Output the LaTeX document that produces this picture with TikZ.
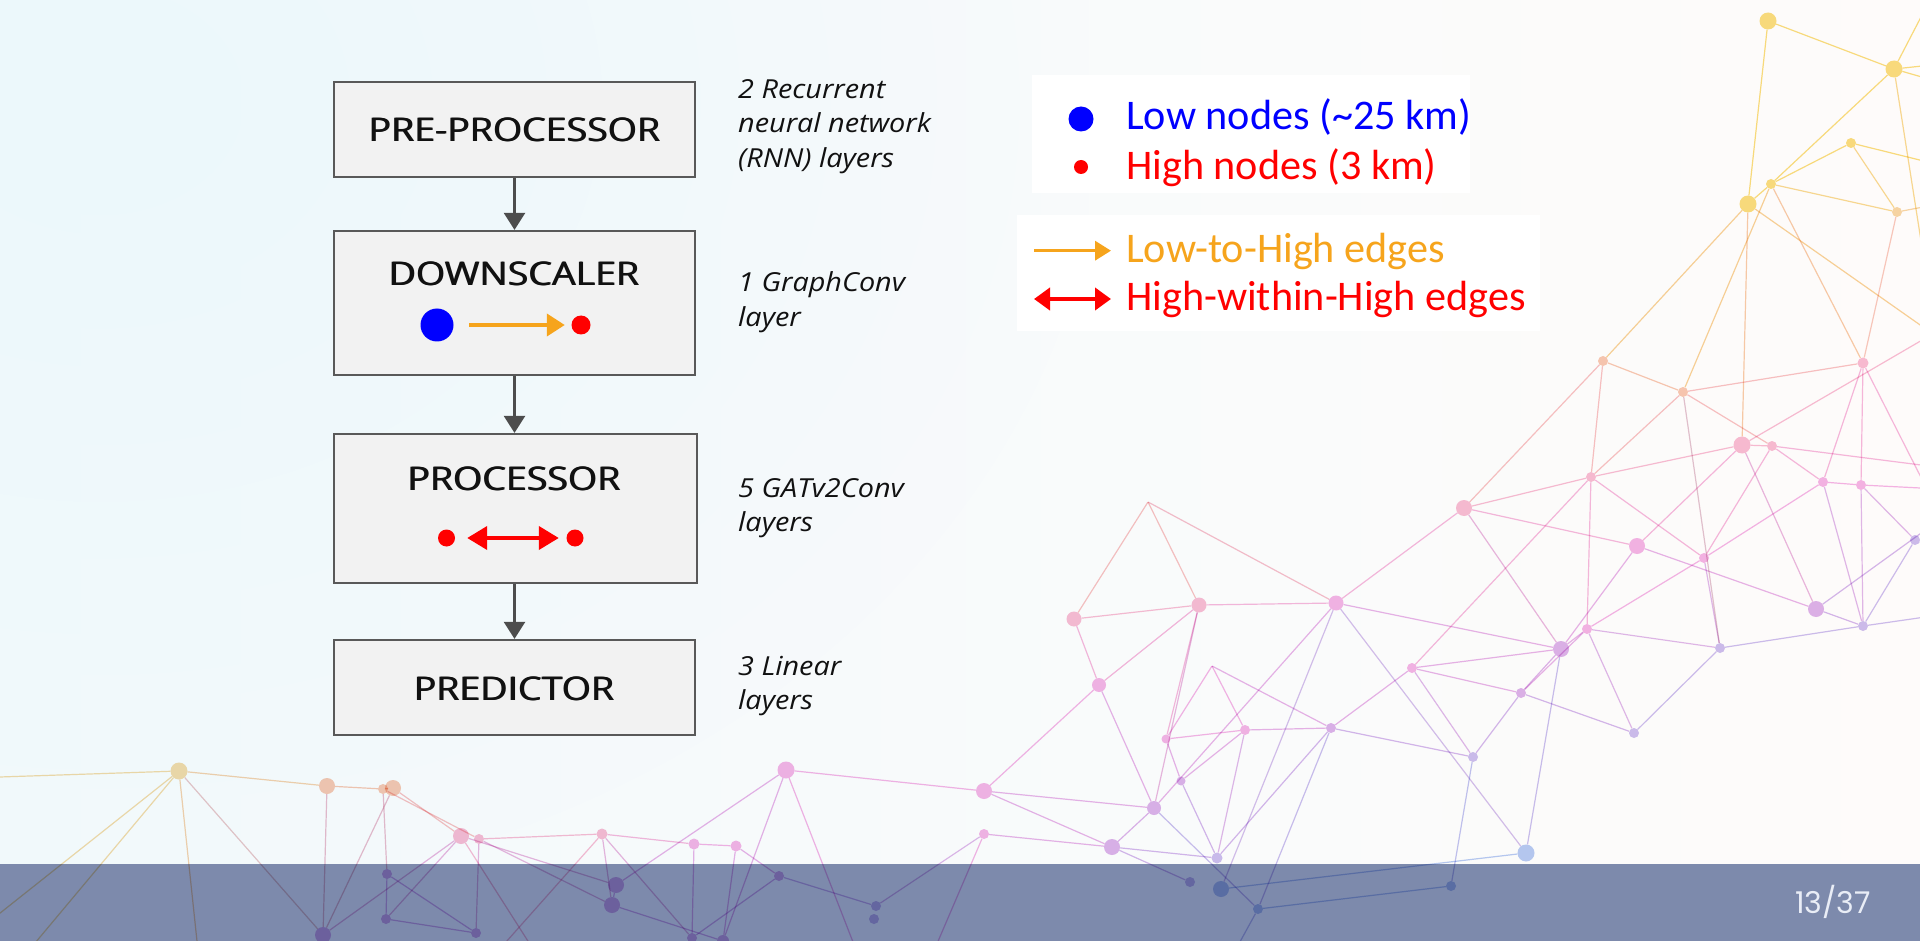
\documentclass[tikz,border=0pt]{standalone}
\usepackage{fontspec}
\setmainfont{Open Sans}
\newfontfamily\titlefont[FakeStretch=1.15]{Open Sans}
\newfontfamily\notefont[FakeStretch=1.1]{Open Sans}
\newfontfamily\legendfont{Carlito}
\newfontfamily\pagefont{Poppins}
\usetikzlibrary{arrows.meta,fadings}

% slightly heavier lettering: the text set twice, a hair apart
\newcommand\heavytext[1]{\rlap{#1}\kern1.1pt #1}

% page and diagram colours
\definecolor{bgleft}{HTML}{F2FAFC}
\definecolor{bgmid}{HTML}{FDF9FD}
\definecolor{bgright}{HTML}{FEFBFA}
\definecolor{bgglow}{HTML}{ECF8FB}
\definecolor{barcol}{HTML}{7D8AAC}
\definecolor{pagecol}{HTML}{E9EDF6}
\definecolor{boxfill}{HTML}{F2F2F2}
\definecolor{boxline}{HTML}{595959}
\definecolor{flowcol}{HTML}{4D4D4D}
\definecolor{inkcol}{HTML}{111111}
\definecolor{lowblue}{HTML}{0000FF}
\definecolor{highred}{HTML}{FF0000}
\definecolor{edgeorange}{HTML}{F6A41C}
% colours of the decorative network
\definecolor{cyel}{HTML}{F9DD7E}
\definecolor{cypc}{HTML}{F7D7A6}
\definecolor{cylo}{HTML}{F6DCAA}
\definecolor{cpch}{HTML}{F8C8B2}
\definecolor{cpnk}{HTML}{F8BCD4}
\definecolor{cmag}{HTML}{F4B4E6}
\definecolor{cpur}{HTML}{DDB2EA}
\definecolor{clav}{HTML}{CDBDEE}
\definecolor{clbl}{HTML}{B7CAF3}

\tikzfading[name=cyanglow, inner color=transparent!0, outer color=transparent!100]

\tikzset{
  stage/.style={draw=boxline, line width=2.2pt, fill=boxfill, inner sep=0pt, minimum width=361pt},
  stagetitle/.style={inner sep=0pt, text=inkcol, font=\titlefont\fontsize{32.6}{38}\selectfont},
  flow/.style={draw=flowcol, line width=2.4pt, -{Triangle[width=21pt,length=17pt]}},
  note/.style={anchor=base west, inner sep=0pt, text=inkcol, font=\notefont\itshape\fontsize{26.2}{34.5}\selectfont},
  bigdot/.style={circle, inner sep=0pt, draw=none, fill=lowblue, minimum size=33pt},
  smalldot/.style={circle, inner sep=0pt, draw=none, fill=highred, minimum size=19pt},
  lowhigh/.style={draw=edgeorange, line width=4pt, -{Triangle[width=22pt,length=18pt]}},
  highhigh/.style={draw=highred, line width=4pt, {Triangle[width=23pt,length=20pt]}-{Triangle[width=23pt,length=20pt]}},
  legendbox/.style={fill=white, draw=none, inner sep=0pt},
  legendtext/.style={anchor=base west, inner sep=0pt, font=\legendfont\fontsize{42.2}{50}\selectfont},
  netdot/.style={circle, inner sep=0pt, draw=none},
  netlink/.style={line width=1.2pt},
}

\begin{document}
\begin{tikzpicture}[x=1pt, y=-1pt]
\useasboundingbox (0,0) rectangle (1920,941);
\clip (0,0) rectangle (1920,941);

% background
\shade[left color=bgleft, middle color=bgmid, right color=bgright] (0,0) rectangle (1920,941);
\fill[bgglow, path fading=cyanglow] (-900,-700) rectangle (1100,900);

% footer bar
\fill[barcol] (0,864) rectangle (1920,941);

% decorative network, multiplied onto the page and the bar
\begin{scope}[blend mode=multiply]
\foreach \n/\x/\y/\d/\c in {
  Y1/1768/21/17/cyel, Y2/1894/69/17/cyel, Y3/1851/143/10/cyel, Y4/1771/184/10/cyel,
  Y5/1748/204/17/cyel, Y6/1897/212/10/cypc,
  P1/1603/361/10/cpch, P2/1683/392/10/cpch, P3/1863/363/11/cpnk, P4/1742/445/17/cpnk,
  P5/1772/446/10/cpnk, P6/1591/477/10/cpnk, P7/1464/508/16/cpnk, P8/1823/482/10/cmag,
  P9/1861/485/10/cmag, P10/1637/546/16/cmag, P11/1704/558/10/cmag, P12/1816/609/16/cpur,
  P13/1863/626/10/clav, P14/1915/540/10/clav, P15/1587/629/10/cmag, P16/1561/649/16/cpur,
  P17/1720/648/10/clav, Q4/1634/733/10/clav, Q7/1412/668/10/cmag, Q8/1521/693/10/cpur,
  Q9/1473/757/10/clav, Q10/1526/853/17/clbl, Q11/1451/886/10/clbl,
  A/1148/502/0/cpch, B/1074/619/15/cpnk, C/1199/605/15/cpnk, D/1336/603/15/cmag,
  H/1099/685/14/cmag, I/1212/666/0/cmag, O/1166/739/9/cmag, Pp/1245/730/10/cmag,
  R/1331/728/10/cpur, T/1181/781/9/cpur, U/984/791/16/cmag, V/1154/808/14/cpur,
  W/984/834/10/cmag, X/1112/847/16/cpur, Yn/1217/858/11/clav,
  BN1/1190/882/10/clav, BN2/1221/889/16/clbl, BN3/1258/909/10/clbl,
  L1/179/771/17/cylo, L2/327/786/16/cpch, L3/383/789/10/cpch, L4/393/788/16/cpch,
  L5/461/836/16/cpnk, L6/479/839/10/cpnk, L7/602/834/11/cpnk, L8/694/844/11/cmag,
  L9/736/846/11/cmag, L10/786/770/17/cmag,
  B1/387/874/10/cpur, B2/386/919/10/cpur, B3/323/935/16/cpur, B4/476/933/10/cpur,
  B5/616/885/16/cpur, B6/612/905/16/cpur, B7/779/876/10/cpur, B8/876/906/10/clav,
  B9/874/919/10/clav, B10/692/938/10/cpur, B11/723/941/12/cpur,
  O1/1935/-10/0/cyel, O2/1960/62/0/cyel, O3/1960/88/0/cyel, O4/1935/330/0/cypc,
  O5/1960/170/0/cyel, O6/1960/200/0/cypc, O7/1960/353/0/cpch, O8/1935/505/0/cmag,
  O9/1960/318/0/cpnk, O10/1960/470/0/cmag, O11/1960/505/0/clav, O12/1960/612/0/clav,
  O13/1960/490/0/cmag, O14/1960/560/0/clav,
  OL1/-20/929/0/cylo, OL2/25/955/0/cylo, OL3/199/960/0/cpch, OL4/-30/778/0/cylo,
  OL5/540/960/0/cpnk, OL6/490/960/0/cpnk, OL7/860/960/0/cmag, OL8/930/960/0/cmag,
  OB1/1230/960/0/clav}
{
  \node[netdot, minimum size=\d pt, fill=\c] (g\n) at (\x,\y) {};
  \xglobal\colorlet{nc\n}{\c}
}
\foreach \a/\b in {
  Y1/Y2, Y1/Y5, Y2/Y4, Y4/Y5, Y4/Y3, Y4/Y6, Y3/Y6, Y4/P2, Y4/P3, Y5/P1, Y5/P4, Y6/P3,
  Y2/O1, Y2/O2, Y2/O3, Y2/O4, Y3/O5, Y6/O6, Y5/O7,
  P1/P7, P1/P2, P1/P6, P2/P6, P2/P5, P2/P17, P2/P3, P3/P8, P3/P9, P3/O8, P4/O9,
  P4/P6, P4/P5, P4/P10, P4/P12, P5/P8, P5/O10, P5/P11,
  P6/P7, P6/P15, P6/P11, P6/Q7, P7/P10, P10/P12, P7/P16, P7/D,
  P8/P9, P8/P13, P8/P11, P9/O13, P9/P13, P9/P14, P10/P16,
  P11/P17, P11/P15, P12/P13, P12/O11, P13/O12, P13/P14, P13/P17, P14/O14, P15/P16, P15/P17,
  P15/Q4, Q4/P17, Q8/Q4, Q8/P16, Q8/Q9, Q7/Q8, Q7/P16, Q7/Q9, Q9/Q11, P16/Q10, Q10/BN2, Q11/BN3,
  A/B, A/C, A/D, B/C, B/H, C/D, C/H, D/P16, D/V, D/BN2, D/Q10, C/O, C/V,
  H/U, H/V, I/O, I/Pp, I/R, Q7/R, P15/Q8,
  O/Pp, O/T, Pp/R, Pp/T, Pp/Yn, R/Q9, R/Yn, R/BN3, T/Yn, U/V, U/X, U/L10, V/X, V/BN3,
  W/X, X/Yn, X/BN1,
  L10/B5, L1/OL4, L1/OL1, L1/OL2, L1/OL3, L1/B3, L1/L2, L2/B3, L2/L3, L3/L4, L4/B3, L3/B1,
  L4/L5, L3/L6, L6/L7, L5/B5, L6/B4, L5/B2, L5/B3, L5/OL5, B1/B4, B1/B2, B2/B4,
  L7/L8, L8/L9, L7/B6, L7/B10, L7/OL6, L10/B11, L10/OL7, L9/B7, L8/B10, L9/B11,
  W/B8, W/OL8, B7/B8, B7/B10, B6/B11, B5/B6, L6/B6, BN3/OB1}
{
  \draw[netlink, draw=nc\a!50!nc\b] (g\a) -- (g\b);
}
\end{scope}

% model pipeline
\node[stage, minimum height=95pt] (box1) at (514.5,129.5) {};
\node[stage, minimum height=144pt] (box2) at (514.5,303) {};
\node[stage, minimum height=149pt, minimum width=363pt] (box3) at (515.5,508.5) {};
\node[stage, minimum height=95pt] (box4) at (514.5,687.5) {};

\node[stagetitle] (t1) at (514.5,130) {\heavytext{PRE-PROCESSOR}};
\node[stagetitle] (t2) at (514,274) {\heavytext{DOWNSCALER}};
\node[stagetitle] (t3) at (514,479) {\heavytext{PROCESSOR}};
\node[stagetitle] (t4) at (514,688.5) {\heavytext{PREDICTOR}};

\draw[flow] (box1.south) -- (box2.north);
\draw[flow] (box2.south) -- (box2.south |- box3.north);
\draw[flow] (box3.south -| box4.south) -- (box4.north);

% edge icons inside the boxes
\node[bigdot] (lowA) at (437,325) {};
\node[smalldot] (highA) at (581,325) {};
\draw[lowhigh, shorten <=15.5pt, shorten >=6.5pt] (lowA) -- (highA);

\node[smalldot, minimum size=17pt] (highB) at (446.5,538) {};
\node[smalldot, minimum size=17pt] (highC) at (575,538) {};
\draw[highhigh, shorten <=12pt, shorten >=7.5pt] (highB) -- (highC);

% layer notes
\node[note] (n1a) at (738,98.5) {2 Recurrent};
\node[note] (n1b) at (738,133) {neural network};
\node[note] (n1c) at (738,167.5) {(RNN) layers};
\node[note] (n2a) at (738,291.7) {1 GraphConv};
\node[note] (n2b) at (738,326.5) {layer};
\node[note] (n3a) at (738,497.3) {5 GATv2Conv};
\node[note] (n3b) at (738,531.7) {layers};
\node[note] (n4a) at (738,675) {3 Linear};
\node[note] (n4b) at (738,709.3) {layers};

% legend
\node[legendbox, minimum width=438pt, minimum height=118pt] (keynodes) at (1251,134) {};
\node[legendbox, minimum width=523pt, minimum height=116pt] (keyedges) at (1278.5,273) {};

\node[bigdot, minimum size=25pt] (keylow) at (1081,119) {};
\node[smalldot, minimum size=14pt] (keyhigh) at (1081,167) {};
\node[legendtext, text=lowblue] (keylowtext) at (1126,130) {Low nodes (\textasciitilde25 km)};
\node[legendtext, text=highred] (keyhightext) at (1126,179.3) {High nodes (3 km)};

\coordinate (keyA1) at (1034,250.7);
\coordinate (keyA2) at (1111,250.7);
\coordinate (keyB1) at (1034,299);
\coordinate (keyB2) at (1111,299);
\draw[draw=edgeorange, line width=3.5pt, -{Triangle[width=19pt,length=16pt]}] (keyA1) -- (keyA2);
\draw[draw=highred, line width=4pt, {Triangle[width=22pt,length=16pt]}-{Triangle[width=22pt,length=16pt]}] (keyB1) -- (keyB2);
\node[legendtext, text=edgeorange] (keyorange) at (1126,262.3) {Low-to-High edges};
\node[legendtext, text=highred] (keyred) at (1126,310.7) {High-within-High edges};

% page number
\node[anchor=base east, inner sep=0pt, text=pagecol, font=\pagefont\fontsize{30}{36}\selectfont] (pageno) at (1871,913) {13/37};
\end{tikzpicture}
\end{document}
